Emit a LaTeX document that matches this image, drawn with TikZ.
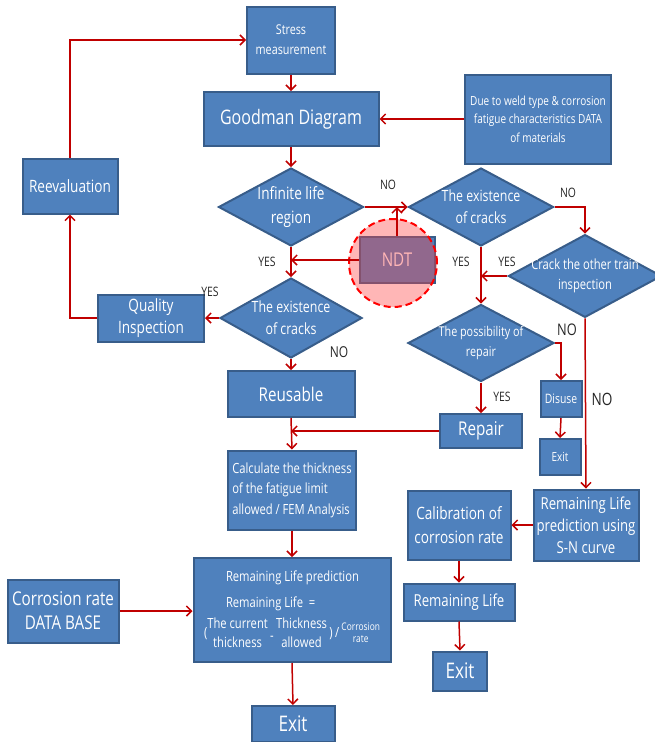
\documentclass[tikz,border=0pt]{standalone}
\usepackage{fontspec}
\setmainfont{Open Sans}[FakeStretch=0.8]
\usepackage{tikz}
\usetikzlibrary{shapes.geometric,arrows.meta}
\definecolor{boxblue}{HTML}{4F81BD}
\definecolor{boxedge}{HTML}{385D8A}
\definecolor{flowred}{HTML}{C00000}
\newcommand{\fsz}[2]{\fontsize{#1pt}{#2pt}\selectfont}
\newcommand{\twoline}[2]{\begin{tabular}{@{}c@{}}#1\\[-1pt]#2\end{tabular}}

\begin{document}
\begin{tikzpicture}[
    x=1pt, y=-1pt,
    box/.style={draw=boxedge, fill=boxblue, line width=2pt, text=white, align=center, inner sep=2pt},
    dia/.style={diamond, draw=boxedge, fill=boxblue, line width=2pt, text=white, align=center, inner sep=-3pt, aspect=1.85},
    flow/.style={draw=flowred, line width=1.5pt, -{Straight Barb[length=5pt,width=10pt]}},
    lbl/.style={font=\fsz{13}{15}, text=black!85},
]
\useasboundingbox (0,0) rectangle (654,742);

% Top row
\node[box, minimum width=88pt, minimum height=67pt, font=\fsz{13.5}{20}] (stress) at (291,40) {Stress\\measurement};
\node[box, minimum width=175pt, minimum height=54pt, font=\fsz{20}{24}] (good) at (291,119) {Goodman Diagram};
\node[box, minimum width=146pt, minimum height=89pt, font=\fsz{12.5}{18.5}] (due) at (538,119) {Due to weld type \& corrosion\\fatigue characteristics DATA\\of materials};
\node[box, minimum width=95pt, minimum height=55pt, font=\fsz{17}{22}] (reeval) at (70,186) {Reevaluation};

% Decisions
\node[dia, minimum width=145pt, minimum height=78pt, font=\fsz{17}{24}] (inf) at (291,207) {Infinite life\\region};
\node[dia, minimum width=145pt, minimum height=78pt, font=\fsz{15.5}{22}] (ex2) at (481,207) {The existence\\of cracks};
\node[dia, minimum width=142pt, minimum height=80pt, font=\fsz{15.5}{22}] (ex1) at (291,318) {The existence\\of cracks};
\node[dia, minimum width=140pt, minimum height=78pt, font=\fsz{14}{20}] (crack) at (585,276) {Crack the other train\\inspection};
\node[dia, minimum width=146pt, minimum height=77pt, font=\fsz{13.5}{20}] (poss) at (481,343) {The possibility of\\repair};

% NDT
\node[box, minimum width=75pt, minimum height=46pt, font=\fsz{19}{22}] (ndt) at (397,260) {NDT};
\node[circle, minimum size=88pt, draw=red, dash pattern=on 7pt off 4pt, line width=2pt, fill=red!75, fill opacity=0.38] (ndtmark) at (393,263) {};

% Left and middle column
\node[box, minimum width=106pt, minimum height=47pt, font=\fsz{17}{22}] (qual) at (151,318) {Quality\\Inspection};
\node[box, minimum width=127pt, minimum height=46pt, font=\fsz{19}{22}] (reuse) at (291,394) {Reusable};
\node[box, minimum width=128pt, minimum height=79pt, font=\fsz{14}{20.5}, align=left] (calc) at (292,490) {Calculate the thickness\\of the fatigue limit\\allowed / FEM Analysis};
\node[box, minimum width=197pt, minimum height=104pt, font=\fsz{14}{20}] (rlp) at (292,610) {%
  \begin{tabular}{@{}l@{}}
  \hspace{22pt}Remaining Life prediction\\[6pt]
  \hspace{22pt}Remaining Life~~=\\[1pt]
  (\twoline{The current}{thickness}\,\raisebox{-3pt}{-}\,\twoline{Thickness}{allowed}\,)\,/\,{\fsz{10.5}{13}\twoline{Corrosion}{rate}}
  \end{tabular}};
\node[box, minimum width=111pt, minimum height=63pt, font=\fsz{19}{24}] (cdb) at (63,611) {Corrosion rate\\DATA BASE};
\node[box, minimum width=83pt, minimum height=36pt, font=\fsz{21.5}{24}] (exitA) at (293,724) {Exit};

% Right column
\node[box, minimum width=82pt, minimum height=34pt, font=\fsz{19}{22}] (repair) at (481,431) {Repair};
\node[box, minimum width=41pt, minimum height=36pt, font=\fsz{13}{15}, inner sep=1pt] (disuse) at (561,399) {Disuse};
\node[box, minimum width=41pt, minimum height=36pt, font=\fsz{12.5}{15}] (exitB) at (560,457) {Exit};
\node[box, minimum width=105pt, minimum height=71pt, font=\fsz{16.5}{22}, inner sep=0pt] (sn) at (586,525) {Remaining Life\\prediction using\\S-N curve};
\node[box, minimum width=103pt, minimum height=69pt, font=\fsz{17}{24}] (calib) at (459,525) {Calibration of\\corrosion rate};
\node[box, minimum width=111pt, minimum height=37pt, font=\fsz{16.5}{20}] (rlife) at (459,602) {Remaining Life};
\node[box, minimum width=54pt, minimum height=39pt, font=\fsz{21.5}{24}] (exitC) at (460,671) {Exit};

% Connectors
\draw[flow] (reeval.north) |- (stress.west);
\draw[flow] (stress.south) -- (good.north);
\draw[flow] (due.west) -- (good.east);
\draw[flow] (good.south) -- (inf.north);
\draw[flow] (inf.east) -- (ex2.west);
\draw[flow] (inf.south) -- (ex1.north);
\draw[flow] (ndt.west) -- (inf.south |- ndt.west);
\draw[flow] (ndt.north) -- (ndt.north |- inf.east);
\draw[flow] (ex1.west) -- (qual.east);
\draw[flow] (qual.west) -| (reeval.south);
\draw[flow] (ex1.south) -- (reuse.north);
\draw[flow] (reuse.south) -- (calc.north);
\draw[flow] (repair.west) -- (reuse.south |- repair.west);
\draw[flow] (calc.south) -- (rlp.north);
\draw[flow] (cdb.east) -- (cdb.east -| rlp.west);
\draw[flow] (rlp.south) -- (exitA.north);
\draw[flow] (ex2.east) -| (crack.north);
\draw[flow] (ex2.south) -- (poss.north);
\draw[flow] (crack.west) -- (ex2.south |- crack.west);
\draw[flow] (crack.south) -- (sn.north);
\draw[flow] (poss.east) -| (disuse.north);
\draw[flow] (poss.south) -- (repair.north);
\draw[flow] (disuse.south) -- (exitB.north);
\draw[flow] (sn.west) -- (calib.east);
\draw[flow] (calib.south) -- (rlife.north);
\draw[flow] (rlife.south) -- (exitC.north);

% Labels
\node[lbl] (noA) at (388,185) {NO};
\node[lbl] (yesA) at (267,262) {YES};
\node[lbl] (yesB) at (210,292) {YES};
\node[lbl, font=\fsz{15}{17}] (noB) at (339,352) {NO};
\node[lbl] (yesC) at (461,262) {YES};
\node[lbl] (yesD) at (507,262) {YES};
\node[lbl] (noC) at (568,193) {NO};
\node[lbl, font=\fsz{16}{18}] (noD) at (567,330) {NO};
\node[lbl, font=\fsz{17}{19}] (noE) at (602,399) {NO};
\node[lbl] (yesE) at (502,397) {YES};

\end{tikzpicture}
\end{document}
